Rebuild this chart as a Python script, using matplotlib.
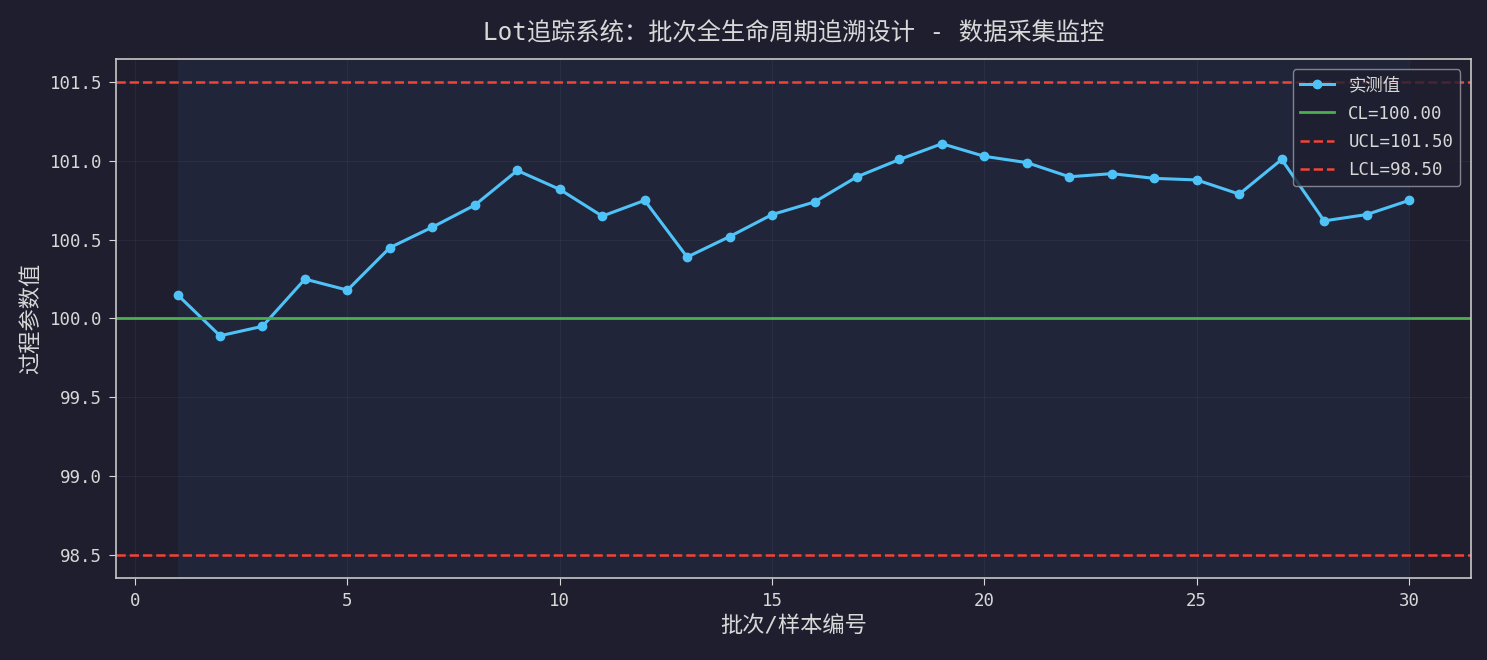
import numpy as np
import matplotlib
matplotlib.use("Agg")
import matplotlib.pyplot as plt

# 批次编号与实测值
batch = list(range(1, 31))
values = [100.15, 99.89, 99.95, 100.25, 100.18, 100.45, 100.58, 100.72, 100.94, 100.82,
          100.65, 100.75, 100.39, 100.52, 100.66, 100.74, 100.90, 101.01, 101.11, 101.03,
          100.99, 100.90, 100.92, 100.89, 100.88, 100.79, 101.01, 100.62, 100.66, 100.75]
cl = 100.0
ucl = 101.5
lcl = 98.5

plt.rcParams['font.family'] = ['DejaVu Sans Mono', 'Noto Sans CJK SC']
plt.rcParams['axes.unicode_minus'] = False

bg = '#1e1e2e'
fg = '#d8d8d8'

fig, ax = plt.subplots(figsize=(14.87, 6.6), dpi=100)
fig.patch.set_facecolor(bg)
ax.set_facecolor(bg)

ax.axvspan(batch[0], batch[-1], color='#2a3a5c', alpha=0.28, lw=0)
ax.plot(batch, values, '-o', color='#4fc3f7', lw=2.2, markersize=6, label='实测值')
ax.axhline(cl, color='#4caf50', lw=2, label=f'CL={cl:.2f}')
ax.axhline(ucl, color='#f44336', lw=1.8, ls='--', label=f'UCL={ucl:.2f}')
ax.axhline(lcl, color='#f44336', lw=1.8, ls='--', label=f'LCL={lcl:.2f}')

ax.set_title('Lot追踪系统：批次全生命周期追溯设计 - 数据采集监控', color=fg, fontsize=17.5, pad=13)
ax.set_xlabel('批次/样本编号', color=fg, fontsize=16, labelpad=4)
ax.set_ylabel('过程参数值', color=fg, fontsize=16, labelpad=6)
ax.tick_params(colors=fg, labelsize=12.5, length=5, pad=5)
for s in ax.spines.values():
    s.set_color('#c8c8c8')
    s.set_linewidth(1.2)
ax.grid(True, color='#3a3f55', alpha=0.35, lw=0.8)

leg = ax.legend(loc='upper right', facecolor=bg, edgecolor='#9a9aa8', fontsize=12.5,
                labelspacing=0.6, borderaxespad=0.6)
for t in leg.get_texts():
    t.set_color(fg)

fig.subplots_adjust(left=0.078, right=0.989, top=0.911, bottom=0.124)
plt.savefig('out.png', dpi=100, facecolor=bg)
